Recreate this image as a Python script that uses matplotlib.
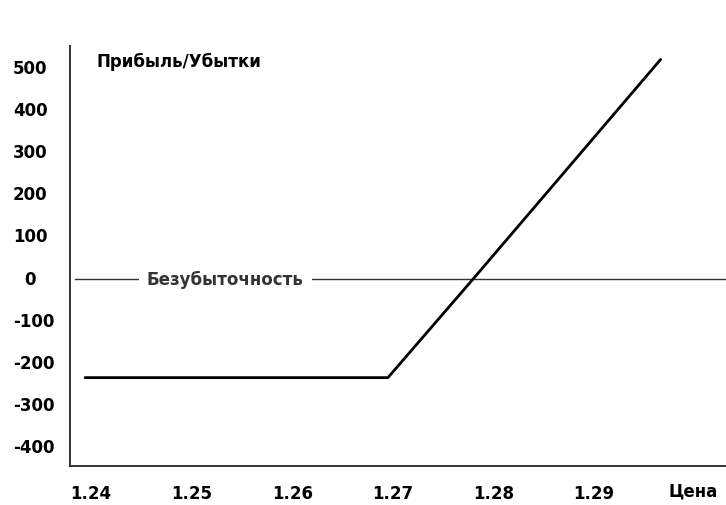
import numpy as np
from matplotlib import pyplot as plt

plt.rcParams['font.family'] = ['DejaVu Sans']

# payoff profile (price -> profit/loss)
price = [1.2394, 1.2695, 1.278, 1.2966]
pnl = [-235, -235, 0, 520]

yticks = [500, 400, 300, 200, 100, 0, -100, -200, -300, -400]
ytick_labels = ['500', '400', '300', '200', '100', '0', '-100', '-200', '-300', '-400']
xticks = [1.24, 1.25, 1.26, 1.27, 1.28, 1.29]
xtick_labels = ['1.24', '1.25', '1.26', '1.27', '1.28', '1.29']

fig = plt.figure()
fig.set_size_inches(7.26, 5.06)
ax = fig.add_axes([70/726, 39/506, 1 - 70/726, 420/506])

ax.set_xlim(1.2379, 1.3031)
ax.set_ylim(-444.7, 552)

ax.spines['top'].set_visible(False)
ax.spines['right'].set_visible(False)
for s in ['left', 'bottom']:
    ax.spines[s].set_linewidth(1.4)
    ax.spines[s].set_color('#333333')

# breakeven line with a gap for the label
ax.axhline(0, xmin=5/656, color='#333333', linewidth=1.0)
ax.text((147 - 70) / 656, 0, 'Безубыточность', transform=ax.get_yaxis_transform(),
        fontsize=12, fontweight='bold', color='#333333', va='center', ha='left',
        bbox=dict(facecolor='white', edgecolor='none', pad=6))

ax.plot(price, pnl, color='black', linewidth=2.0, solid_capstyle='round')

# y labels drawn by hand: left-aligned, except the lone "0"
ax.set_yticks(yticks)
ax.set_yticklabels([])
for v, s in zip(yticks, ytick_labels):
    if s == '0':
        ax.text((30 - 70) / 656, v, s, transform=ax.get_yaxis_transform(),
                fontsize=12, fontweight='bold', va='center', ha='center')
    else:
        ax.text((13 - 70) / 656, v, s, transform=ax.get_yaxis_transform(),
                fontsize=12, fontweight='bold', va='center', ha='left')

ax.set_xticks(xticks)
ax.set_xticklabels(xtick_labels)
ax.tick_params(length=0, labelsize=12)
ax.tick_params(axis='x', pad=13)
for lbl in ax.get_xticklabels():
    lbl.set_fontweight('bold')

ax.text((97 - 70) / 656, (467 - 62) / 420, 'Прибыль/Убытки', transform=ax.transAxes,
        fontsize=12, fontweight='bold', va='center', ha='left')
fig.text(668 / 726, 1 - 492 / 506, 'Цена', fontsize=12, fontweight='bold',
         va='center', ha='left')

plt.savefig('out.png', dpi=100)
